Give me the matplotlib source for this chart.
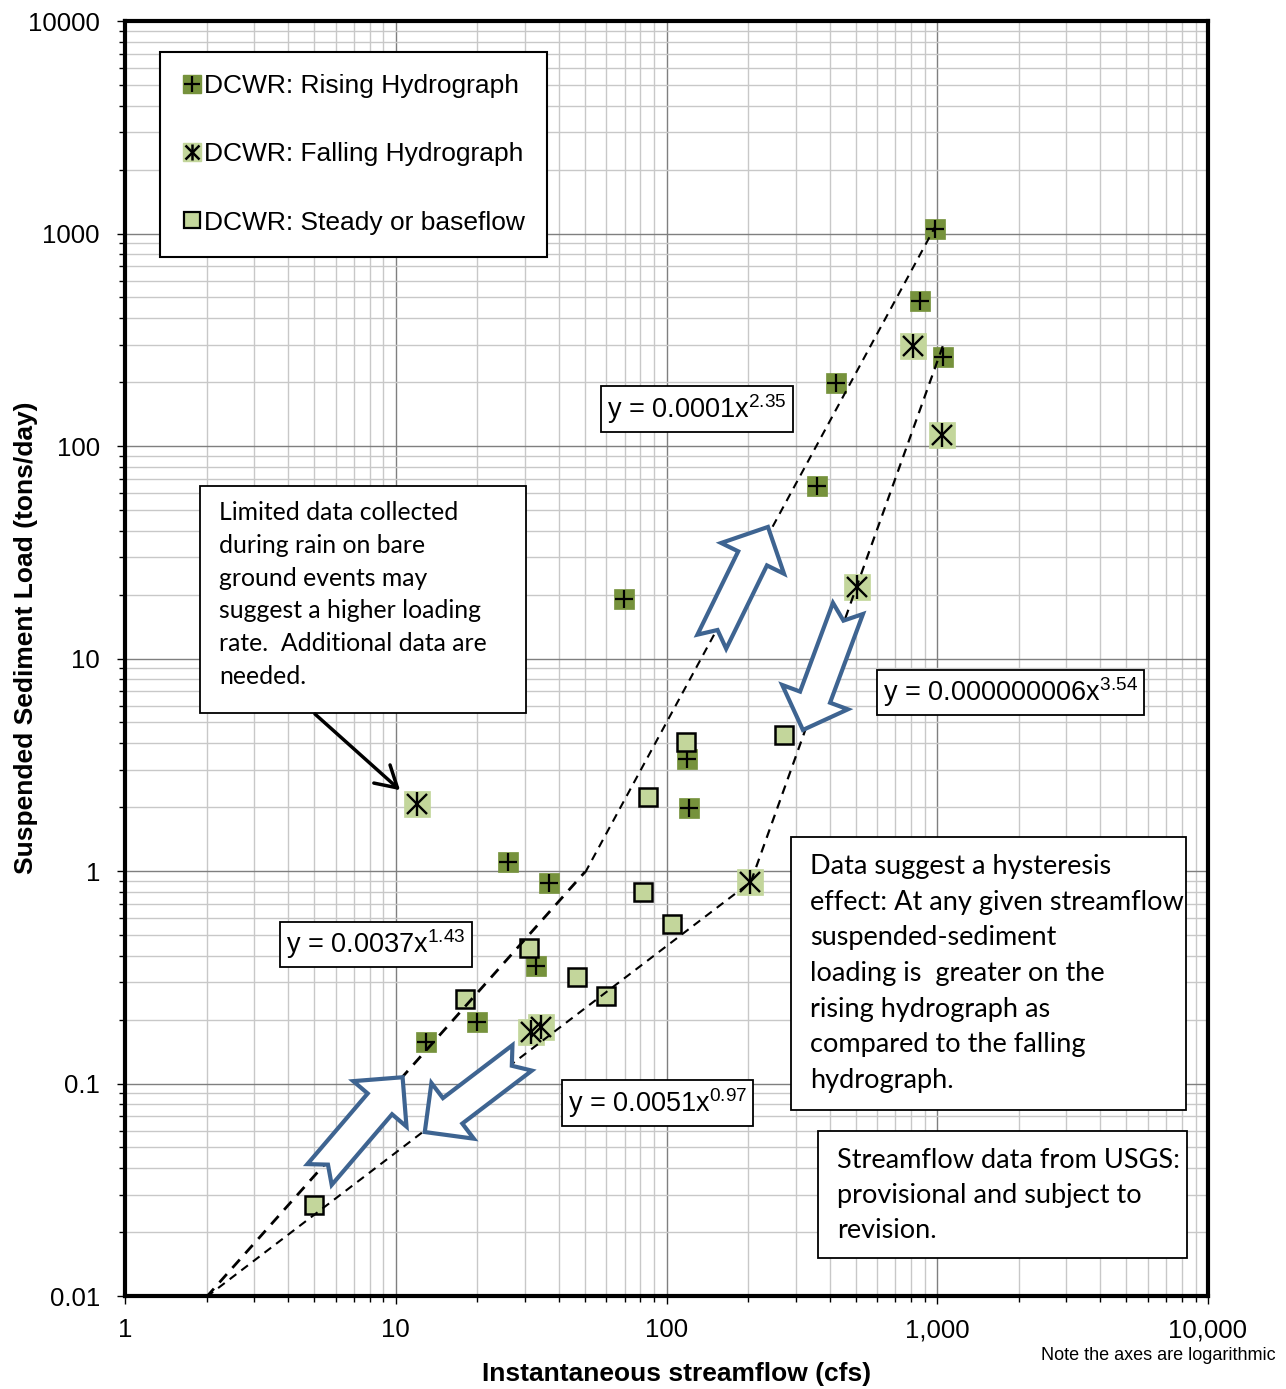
import matplotlib

matplotlib.use("Agg")
import matplotlib.pyplot as plt
import numpy as np
from matplotlib.lines import Line2D
from matplotlib.patches import Polygon, Rectangle
from matplotlib.ticker import LogLocator, NullFormatter

plt.rcParams["font.family"] = ["Liberation Sans", "DejaVu Sans"]
plt.rcParams["mathtext.fontset"] = "custom"
plt.rcParams["mathtext.rm"] = "Liberation Sans"

# streamflow (cfs) / suspended sediment load (tons/day)
rising_q = [981, 863, 1050, 423, 360, 69.7, 119, 121, 26.0, 36.8, 33.0, 20.0, 12.9]
rising_load = [1050, 481, 262, 198, 64.9, 19.1, 3.37, 1.98, 1.10, 0.88, 0.357, 0.195, 0.157]
falling_q = [813, 1042, 505, 12.0, 203, 34.4, 31.6]
falling_load = [296, 113, 21.7, 2.07, 0.887, 0.185, 0.175]
steady_q = [272, 118, 85.4, 81.9, 105, 31.1, 46.7, 59.8, 18.0, 4.99]
steady_load = [4.37, 4.05, 2.23, 0.796, 0.564, 0.435, 0.317, 0.258, 0.250, 0.0268]

# power-law trendlines, end points
trend_labels = ["y = 0.0037x$^{\\mathregular{1.43}}$", "y = 0.0001x$^{\\mathregular{2.35}}$",
                "y = 0.0051x$^{\\mathregular{0.97}}$", "y = 0.000000006x$^{\\mathregular{3.54}}$"]
trend_q = [[2, 50], [50, 980], [2, 205], [205, 1050]]
trend_load = [[0.0099, 0.99], [0.98, 1070], [0.0099, 0.89], [0.89, 297]]

x_ticks = [1, 10, 100, 1000, 10000]
x_tick_labels = ["1", "10", "100", "1,000", "10,000"]
y_ticks = [0.01, 0.1, 1, 10, 100, 1000, 10000]
y_tick_labels = ["0.01", "0.1", "1", "10", "100", "1000", "10000"]

DARK = "#76923C"
LIGHT = "#C3D69B"
BLUE = "#3E6491"
NOTE_FONT = ["Lato", "DejaVu Sans"]


def block_arrow(ax, tail, tip, shaft=16, head=35, head_len=35, notch=13):
    trans = ax.transData
    t = trans.transform(tail)
    p = trans.transform(tip)
    d = p - t
    length = np.hypot(*d)
    u = d / length
    n = np.array([-u[1], u[0]])
    b = t + u * (length - head_len)
    pts = [t + n * shaft, b + n * shaft, b + n * head, p,
           b - n * head, b - n * shaft, t - n * shaft, t + u * notch]
    verts = trans.inverted().transform(pts)
    ax.add_patch(Polygon(verts, closed=True, fc="white", ec=BLUE, lw=3,
                         joinstyle="miter", zorder=5))


def note_box(ax, box, tx, ty, text, size, spacing):
    x0, y0, x1, y1 = box
    ax.add_patch(Rectangle((x0, y0), x1 - x0, y1 - y0, transform=ax.transAxes,
                           fc="white", ec="black", lw=1.3, zorder=6))
    ax.text(tx, ty, text, transform=ax.transAxes, fontsize=size, family=NOTE_FONT,
            ha="left", va="center", linespacing=spacing, zorder=7)


fig = plt.figure(figsize=(12.86, 13.89), dpi=100)
ax = fig.add_axes([125 / 1286, 1 - 1296 / 1389, 1083 / 1286, 1275 / 1389])
ax.set_xscale("log")
ax.set_yscale("log")
ax.set_xlim(1, 10000)
ax.set_ylim(0.01, 10000)

ax.set_axisbelow(True)
ax.xaxis.set_minor_locator(LogLocator(base=10, subs=np.arange(2, 10)))
ax.yaxis.set_minor_locator(LogLocator(base=10, subs=np.arange(2, 10)))
ax.xaxis.set_minor_formatter(NullFormatter())
ax.yaxis.set_minor_formatter(NullFormatter())
ax.set_xticks(x_ticks)
ax.set_xticklabels(x_tick_labels)
ax.set_yticks(y_ticks)
ax.set_yticklabels(y_tick_labels)
ax.grid(which="major", color="#7f7f7f", lw=1.0)
ax.grid(which="minor", color="#c8c8c8", lw=1.0)
ax.tick_params(which="major", direction="out", length=6, width=1, labelsize=18.5)
ax.tick_params(which="minor", direction="out", length=4, width=1)
ax.tick_params(axis="x", which="major", pad=10)
ax.tick_params(axis="y", which="major", pad=12)
for sp in ax.spines.values():
    sp.set_linewidth(3)

ax.set_xlabel("Instantaneous streamflow (cfs)", fontsize=19, fontweight="bold")
ax.set_ylabel("Suspended Sediment Load (tons/day)", fontsize=19, fontweight="bold")
ax.xaxis.set_label_coords(0.509, -0.052)
ax.yaxis.set_label_coords(-0.0800, 0.516)

# markers
ax.plot(rising_q, rising_load, ls="", marker="s", ms=14.5, mfc=DARK, mec=DARK, mew=0.5, zorder=3)
ax.plot(rising_q, rising_load, ls="", marker="+", ms=13, mec="black", mew=1.6, zorder=3)
ax.plot(falling_q, falling_load, ls="", marker="s", ms=18.5, mfc=LIGHT, mec=LIGHT, mew=0.5, zorder=3)
ax.plot(falling_q, falling_load, ls="", marker="x", ms=14, mec="black", mew=1.7, zorder=3)
ax.plot(falling_q, falling_load, ls="", marker="|", ms=17, mec="black", mew=1.7, zorder=3)
ax.plot(steady_q, steady_load, ls="", marker="s", ms=13.5, mfc=LIGHT, mec="black", mew=1.8, zorder=3)

# trendlines
trend_lw = [2.0, 1.5, 1.5, 1.6]
for q, load, lw in zip(trend_q, trend_load, trend_lw):
    ax.plot(q, load, ls=(0, (4, 3)), color="black", lw=lw, zorder=4)

eq_pos = [(0.2318, 0.2757), (0.5281, 0.6955), (0.4917, 0.1513), (0.8177, 0.4733)]
for label, (ex, ey) in zip(trend_labels, eq_pos):
    ax.text(ex, ey, label, transform=ax.transAxes, fontsize=19.5, ha="center", va="center",
            zorder=8, bbox=dict(boxstyle="square,pad=0.22", fc="white", ec="black", lw=1.3))

# hysteresis arrows
block_arrow(ax, (5.23, 0.0373), (10.6, 0.107))
block_arrow(ax, (29.3, 0.132), (12.8, 0.0591))
block_arrow(ax, (147, 12.0), (237, 41.6))
block_arrow(ax, (468, 17.2), (319, 4.61))

note_box(ax, (0.0693, 0.4573, 0.3703, 0.6353), 0.0868, 0.5502,
         "Limited data collected\nduring rain on bare\nground events may\n"
         "suggest a higher loading\nrate.  Additional data are\nneeded.", 17.8, 1.52)
note_box(ax, (0.615, 0.1459, 0.9797, 0.36), 0.6325, 0.2529,
         "Data suggest a hysteresis\neffect: At any given streamflow\nsuspended-sediment\n"
         "loading is  greater on the\nrising hydrograph as\ncompared to the falling\nhydrograph.",
         19.5, 1.53)
note_box(ax, (0.6399, 0.0298, 0.9806, 0.1294), 0.6574, 0.0788,
         "Streamflow data from USGS:\nprovisional and subject to\nrevision.", 19.5, 1.52)

ax.annotate("", xy=(10.37, 2.40), xytext=(5.03, 5.48), zorder=7,
            arrowprops=dict(arrowstyle="->,head_length=0.6,head_width=0.35", lw=2.5,
                            color="black", shrinkA=0, shrinkB=0, mutation_scale=25))

handles = [
    (Line2D([], [], ls="", marker="s", ms=13, mfc=DARK, mec=DARK),
     Line2D([], [], ls="", marker="+", ms=12, mec="black", mew=1.6)),
    (Line2D([], [], ls="", marker="s", ms=13, mfc=LIGHT, mec=LIGHT),
     Line2D([], [], ls="", marker="x", ms=10, mec="black", mew=1.8),
     Line2D([], [], ls="", marker="|", ms=12, mec="black", mew=1.8)),
    Line2D([], [], ls="", marker="s", ms=11.5, mfc=LIGHT, mec="black", mew=1.6),
]
labels = ["DCWR: Rising Hydrograph", "DCWR: Falling Hydrograph", "DCWR: Steady or baseflow"]
leg = ax.legend(handles, labels, loc="upper left", bbox_to_anchor=(0.0323, 0.9757),
                borderaxespad=0, frameon=True, fancybox=False, edgecolor="black",
                framealpha=1, prop={"size": 19}, labelspacing=1.67, handlelength=0.7,
                handletextpad=0.1, borderpad=0.85)
leg.get_frame().set_linewidth(1.5)
leg.set_zorder(10)

fig.text(1276 / 1286, 1 - 1356 / 1389, "Note the axes are logarithmic", fontsize=13,
         ha="right", va="center")

fig.savefig("out.png", dpi=100)
